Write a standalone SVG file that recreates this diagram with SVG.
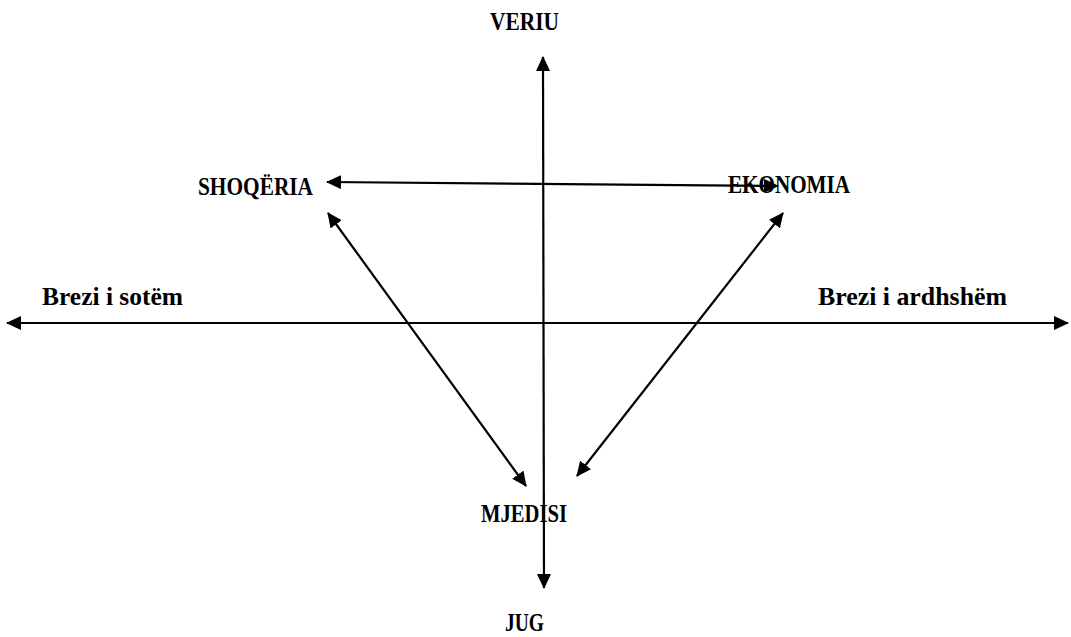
<svg xmlns="http://www.w3.org/2000/svg" width="1071" height="637" viewBox="0 0 1071 637">
<style>
text{font-family:"Liberation Serif","Times New Roman",serif;font-weight:bold;font-size:26px;fill:#000}
.c{stroke:#000;stroke-width:2.2;fill:none}
</style>
<defs>
<marker id="ah" viewBox="0 0 15 14" refX="14" refY="7" markerWidth="15" markerHeight="14" markerUnits="userSpaceOnUse" orient="auto-start-reverse">
<path d="M0,0 L15,7 L0,14 Z" fill="#000"/>
</marker>
</defs>
<rect width="1071" height="637" fill="#fff"/>
<g id="connectors">
<line class="c" x1="543" y1="57" x2="544" y2="588" marker-start="url(#ah)" marker-end="url(#ah)"/>
<line class="c" x1="7" y1="323" x2="1068" y2="323" marker-start="url(#ah)" marker-end="url(#ah)"/>
<line class="c" x1="327" y1="182" x2="778" y2="186" marker-start="url(#ah)" marker-end="url(#ah)"/>
<line class="c" x1="328" y1="213" x2="526" y2="486" marker-start="url(#ah)" marker-end="url(#ah)"/>
<line class="c" x1="783" y1="213" x2="577" y2="476" marker-start="url(#ah)" marker-end="url(#ah)"/>
</g>
<g id="veriu"><text x="490" y="30" textLength="69" lengthAdjust="spacingAndGlyphs">VERIU</text></g>
<g id="shoqeria"><text x="198" y="195" textLength="115" lengthAdjust="spacingAndGlyphs">SHOQËRIA</text></g>
<g id="ekonomia"><text x="728" y="193" textLength="122" lengthAdjust="spacingAndGlyphs">EKONOMIA</text></g>
<g id="brezi-sotem"><text x="42" y="305" textLength="141" lengthAdjust="spacingAndGlyphs">Brezi i sotëm</text></g>
<g id="brezi-ardhshem"><text x="818" y="305" textLength="189" lengthAdjust="spacingAndGlyphs">Brezi i ardhshëm</text></g>
<g id="mjedisi"><text x="481" y="522" textLength="86" lengthAdjust="spacingAndGlyphs">MJEDISI</text></g>
<g id="jug"><text x="505" y="631" textLength="39" lengthAdjust="spacingAndGlyphs">JUG</text></g>
</svg>
